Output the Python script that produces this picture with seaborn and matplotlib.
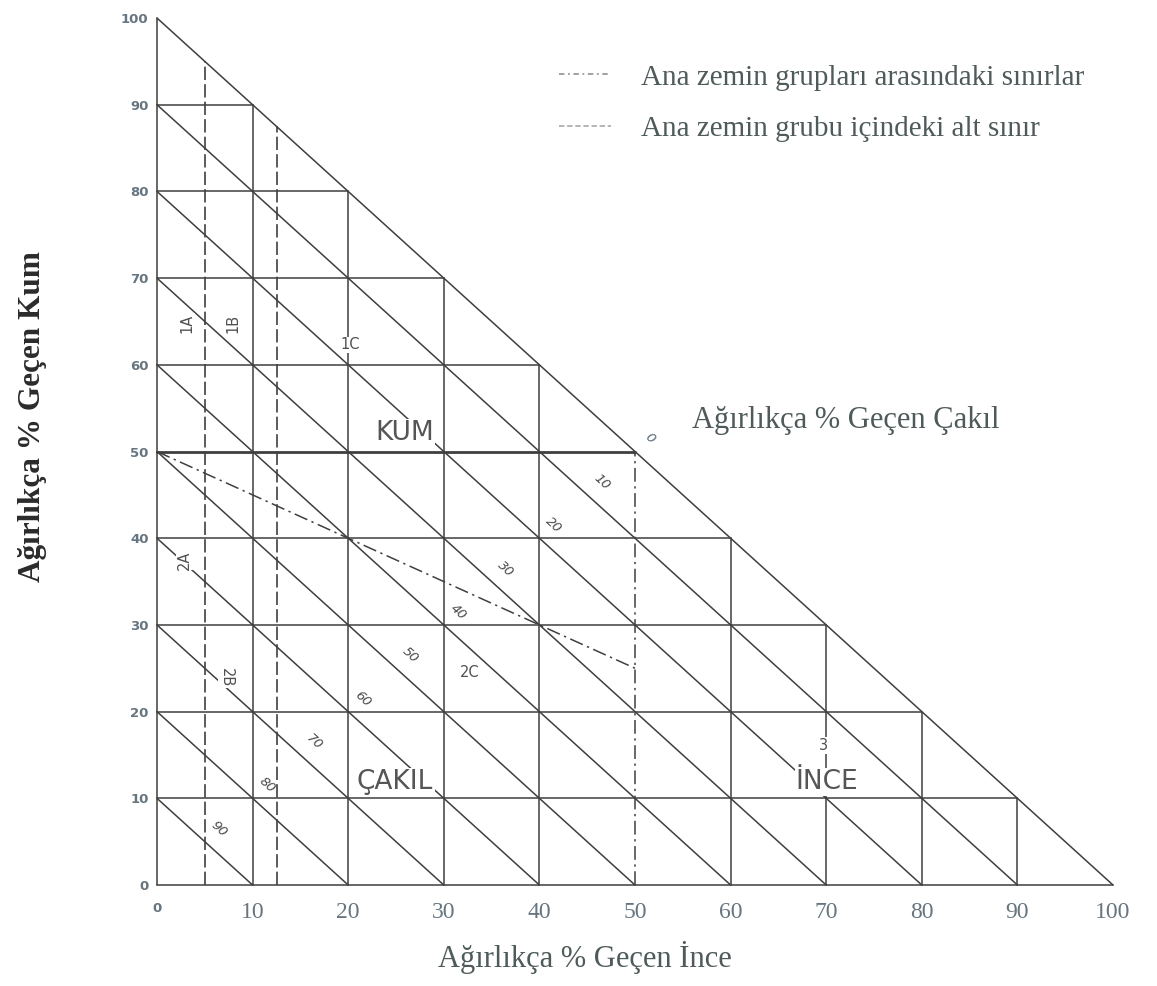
import numpy as np
import pandas as pd
import matplotlib
matplotlib.use("Agg")
import matplotlib.pyplot as plt
from matplotlib.lines import Line2D
import seaborn as sns

# ── data ─────────────────────────────────────────────────────────────────────
grid_levels = [0, 10, 20, 30, 40, 50, 60, 70, 80, 90]        # % ince / % kum grid
x_ticks = [0, 10, 20, 30, 40, 50, 60, 70, 80, 90, 100]
y_ticks = [0, 10, 20, 30, 40, 50, 60, 70, 80, 90, 100]
gravel_values = [0, 10, 20, 30, 40, 50, 60, 70, 80, 90]      # % çakıl diagonals
group_line_ince = [0, 50]                                    # main group boundary
group_line_kum = [50, 25]
subgroup_ince = [5, 12.5]                                    # sub-group boundaries

region_names = ["KUM", "ÇAKIL", "İNCE"]
region_ince = [25.9, 24.9, 70.1]
region_kum = [52.1, 11.9, 11.9]

sub_names = ["1A", "1B", "1C", "2A", "2B", "2C", "3"]
sub_ince = [3.1, 7.9, 20.2, 2.9, 7.3, 32.7, 69.7]
sub_kum = [64.8, 64.8, 62.3, 37.5, 23.9, 24.5, 16.1]
sub_rot = [90, 90, 0, 90, -90, 0, 0]

legend_labels = ["Ana zemin grupları arasındaki sınırlar",
                 "Ana zemin grubu içindeki alt sınır"]

LINE = "#3f3f3f"
TXT = "#4e5b5a"
TICK = "#66757f"

# ── segments table ───────────────────────────────────────────────────────────
rows = []
def seg(name, kind, x0, y0, x1, y1):
    rows.append((name, kind, x0, y0))
    rows.append((name, kind, x1, y1))

for v in grid_levels:
    seg(f"h{v}", "main" if v == 50 else "grid", 0, v, 100 - v, v)
    seg(f"v{v}", "group" if v == 50 else "grid", v, 0, v, 100 - v)
    seg(f"d{v}", "grid", 0, v + 10, v + 10, 0)
for i in range(len(group_line_ince) - 1):
    seg(f"g{i}", "group", group_line_ince[i], group_line_kum[i],
        group_line_ince[i + 1], group_line_kum[i + 1])
for s in subgroup_ince:
    seg(f"s{s}", "sub", s, 0, s, 100 - s)

df = pd.DataFrame(rows, columns=["seg", "kind", "ince", "kum"])

# ── figure ───────────────────────────────────────────────────────────────────
sns.set_theme(style="white")
plt.rcParams["font.family"] = ["DejaVu Sans"]

fig = plt.figure(figsize=(11.57, 9.86), dpi=100)
ax = fig.add_axes([0.1357, 0.1024, 0.8263, 0.8793])

styles = {
    "grid":  dict(lw=1.1, linestyle="-"),
    "main":  dict(lw=2.0, linestyle="-"),
    "group": dict(lw=1.1, linestyle=(0, (9, 3, 1.5, 3))),
    "sub":   dict(lw=1.2, linestyle=(0, (8, 2.5))),
}
for kind, st in styles.items():
    sns.lineplot(data=df[df["kind"] == kind], x="ince", y="kum", units="seg",
                 estimator=None, sort=False, color=LINE, ax=ax, clip_on=False,
                 legend=False, **st)

ax.set_xlim(0, 100)
ax.set_ylim(0, 100)
for sp in ax.spines.values():
    sp.set_visible(False)

# ticks
ax.set_xticks(x_ticks)
ax.set_xticklabels([str(v) for v in x_ticks], fontfamily="Liberation Serif",
                   fontsize=17, color=TICK)
ax.set_yticks(y_ticks)
ax.set_yticklabels([str(v) for v in y_ticks], fontweight="bold",
                   fontsize=9.5, color=TICK)
ax.tick_params(axis="x", length=0, pad=12)
ax.tick_params(axis="y", length=0, pad=6)
first = ax.get_xticklabels()[0]
first.set_fontfamily("DejaVu Sans")
first.set_fontweight("bold")
first.set_fontsize(9.5)

# axis titles
ax.set_xlabel("Ağırlıkça % Geçen İnce", fontfamily="Liberation Serif",
              fontsize=22, color=TXT)
ax.xaxis.set_label_coords(0.448, -0.064)
ax.set_ylabel("Ağırlıkça % Geçen Kum", fontfamily="Liberation Serif",
              fontsize=22.5, fontweight="bold", color="#2b2b2b")
ax.yaxis.set_label_coords(-0.115, 0.54)
ax.text(72, 53.6, "Ağırlıkça % Geçen Çakıl", fontfamily="Liberation Serif",
        fontsize=22, color=TXT, ha="center", va="center")

# gravel labels along the diagonal ince = kum
for g in gravel_values:
    p = (100 - g) / 2 + 1.5
    ax.text(p, p, str(g), rotation=-42, ha="center", va="center",
            fontsize=9.5, color="#4a4a4a" if g else "#56687a",
            fontstyle="italic")

# region labels
for name, xi, yi in zip(region_names, region_ince, region_kum):
    ax.text(xi, yi, name, ha="center", va="center", fontsize=19, color="#555555",
            bbox=dict(facecolor="white", edgecolor="none", pad=1.0))

# subgroup labels
for name, xi, yi, r in zip(sub_names, sub_ince, sub_kum, sub_rot):
    ax.text(xi, yi, name, ha="center", va="center", fontsize=10.5, color="#505050",
            rotation=r, bbox=dict(facecolor="white", edgecolor="none", pad=0.6))

# legend
handles = [Line2D([], [], color="#9a9a9a", lw=1.3, linestyle=(0, (3, 2, 1, 2))),
           Line2D([], [], color="#b0b0b0", lw=1.3, linestyle=(0, (3, 1.5)))]
leg = ax.legend(handles, legend_labels, loc="upper left",
                bbox_to_anchor=(0.393, 0.977), frameon=False,
                prop=dict(family="Liberation Serif", size=21),
                handlelength=1.8, handletextpad=1.0, labelspacing=0.85)
for t in leg.get_texts():
    t.set_color(TXT)

fig.savefig("out.png", dpi=100, facecolor="white")
